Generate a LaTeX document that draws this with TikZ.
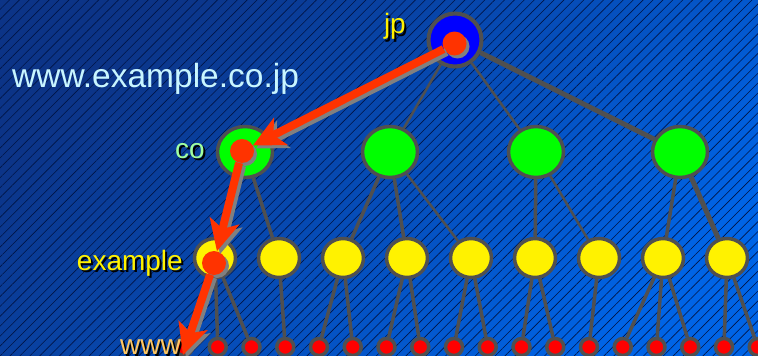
\documentclass[tikz,border=0pt]{standalone}
\usepackage{fontspec}
\setmainfont{Liberation Sans}
\usepackage{tikz}
\usetikzlibrary{arrows.meta,positioning,shapes.geometric,shadows,patterns.meta}
\definecolor{bgdark}{RGB}{12,52,135}
\definecolor{bglight}{RGB}{0,100,230}
\definecolor{hatch}{RGB}{0,20,70}
\definecolor{linegray}{RGB}{80,80,80}
\definecolor{routered}{RGB}{255,51,0}
\definecolor{shadowgray}{RGB}{128,128,128}
\definecolor{urlcyan}{RGB}{200,245,255}
\definecolor{cogreen}{RGB}{160,255,160}
\definecolor{wwworange}{RGB}{255,200,100}
\newcommand{\shadowed}[2]{\makebox[0pt][l]{\hspace{2pt}\raisebox{-2pt}{\color{black}#2}}\textcolor{#1}{#2}}

\begin{document}
\begin{tikzpicture}[x=1pt,y=-1pt,on grid,
                    >={Stealth[length=31pt,width=30pt,inset=8pt]}]
  \tikzstyle{zone}=[draw=linegray,line width=3.5pt,inner sep=0pt]
  \tikzstyle{tldnode}=[zone,circle,fill=blue,minimum size=53pt,line width=4pt]
  \tikzstyle{sldnode}=[zone,ellipse,fill=green,minimum width=55pt,minimum height=51pt]
  \tikzstyle{subnode}=[zone,ellipse,fill=yellow,minimum width=41pt,minimum height=39pt]
  \tikzstyle{hostnode}=[zone,circle,fill=red,minimum size=17pt]
  \tikzstyle{branch}=[draw=linegray,line width=3.5pt]
  \tikzstyle{hop}=[circle,fill=routered,minimum size=24pt,inner sep=0pt,
                   drop shadow={shadow xshift=3pt,shadow yshift=-3pt,fill=shadowgray,opacity=1}]
  \tikzstyle{route}=[->,draw=routered,line width=8pt]
  \tikzstyle{routeshadow}=[route,draw=shadowgray,transform canvas={shift={(3pt,-3pt)}}]
  \tikzstyle{labeltext}=[inner sep=0pt,font=\fontsize{28}{32}\selectfont]

  \useasboundingbox (0,0) rectangle (758,356);
  \shade[top color=bgdark,bottom color=bglight,shading angle=45] (0,0) rectangle (758,356);
  \fill[pattern={Lines[angle=45,distance=7pt,line width=0.6pt]},pattern color=hatch,
        fill opacity=0.3] (0,0) rectangle (758,356);

  \node[tldnode] (jp) at (455,40)            {};
  \node[sldnode] (co) at (245,152)           {};
  \node[sldnode] (g2) [right=145pt of co]    {};
  \node[sldnode] (g3) [right=146pt of g2]    {};
  \node[sldnode] (g4) [right=144pt of g3]    {};

  \node[subnode] (example) at (215,258)      {};
  \node[subnode] (y2) [right=64pt of example] {};
  \node[subnode] (y3) [right=64pt of y2]     {};
  \node[subnode] (y4) [right=64pt of y3]     {};
  \node[subnode] (y5) [right=64pt of y4]     {};
  \node[subnode] (y6) [right=64pt of y5]     {};
  \node[subnode] (y7) [right=64pt of y6]     {};
  \node[subnode] (y8) [right=64pt of y7]     {};
  \node[subnode] (y9) [right=64pt of y8]     {};

  \node[hostnode] (www) at (184,347)         {};
  \node[hostnode] (r1) [right=33.75pt of www] {};
  \node[hostnode] (r2) [right=33.75pt of r1] {};
  \node[hostnode] (r3) [right=33.75pt of r2] {};
  \node[hostnode] (r4) [right=33.75pt of r3] {};
  \node[hostnode] (r5) [right=33.75pt of r4] {};
  \node[hostnode] (r6) [right=33.75pt of r5] {};
  \node[hostnode] (r7) [right=33.75pt of r6] {};
  \node[hostnode] (r8) [right=33.75pt of r7] {};
  \node[hostnode] (r9) [right=33.75pt of r8] {};
  \node[hostnode] (r10) [right=33.75pt of r9] {};
  \node[hostnode] (r11) [right=33.75pt of r10] {};
  \node[hostnode] (r12) [right=33.75pt of r11] {};
  \node[hostnode] (r13) [right=33.75pt of r12] {};
  \node[hostnode] (r14) [right=33.75pt of r13] {};
  \node[hostnode] (r15) [right=33.75pt of r14] {};
  \node[hostnode] (r16) [right=33.75pt of r15] {};
  \node[hostnode] (r17) [right=33.75pt of r16] {};

  \path[branch]
(jp) edge                    (co)
(jp) edge [line width=2.5pt] (g2)
(jp) edge [line width=2.5pt] (g3)
(jp) edge [line width=5pt]   (g4)
(co) edge                    (example)
(co) edge                    (y2)
(g2) edge                    (y3)
(g2) edge                    (y4)
(g2) edge [line width=2.5pt] (y5)
(g3) edge                    (y6)
(g3) edge [line width=2.5pt] (y7)
(g4) edge                    (y8)
(g4) edge [line width=5pt]   (y9)
(example) edge (www)
(example) edge (r1)
(example) edge (r2)
(y2) edge (r3)
(y3) edge (r4)
(y3) edge (r5)
(y4) edge (r6)
(y4) edge (r7)
(y5) edge (r8)
(y5) edge (r9)
(y6) edge (r10)
(y6) edge (r11)
(y7) edge (r12)
(y8) edge (r13)
(y8) edge (r14)
(y8) edge (r15)
(y9) edge (r16)
(y9) edge (r17)
;

  \node[labeltext,anchor=base west] (url) at (12,87)
       {\fontsize{33.5}{38}\selectfont\color{urlcyan}www.example.co.jp};
  \node[labeltext,anchor=base east] (jplabel) at (406,34) {\shadowed{yellow}{jp}};
  \node[labeltext,anchor=base east] (colabel) at (205,158) {\shadowed{cogreen}{co}};
  \node[labeltext,anchor=base east] (examplelabel) at (183,270) {\shadowed{yellow}{example}};
  \node[labeltext,anchor=base east] (wwwlabel) at (181,354) {\shadowed{wwworange}{www}};

  \node[hop] (h0) at (454.5,43.5) {};
  \node[hop] (h1) at (242,151)    {};
  \node[hop] (h2) at (214,263)    {};
  \coordinate (tip) at (183,355);

  \draw[routeshadow] (h0) -- (h1);
  \draw[routeshadow] (h1) -- (h2);
  \draw[routeshadow] (h2) -- (tip);
  \draw[route] (h0) -- (h1);
  \draw[route] (h1) -- (h2);
  \draw[route] (h2) -- (tip);

\end{tikzpicture}
\end{document}
